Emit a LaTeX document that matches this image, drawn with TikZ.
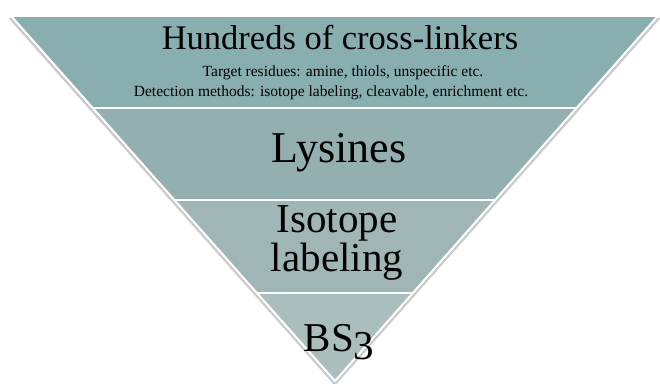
\documentclass[tikz,border=0pt]{standalone}
\usepackage{fontspec}
\setmainfont{Liberation Serif}
\usetikzlibrary{calc}
\definecolor{bandA}{HTML}{89AEAF}
\definecolor{bandB}{HTML}{94AFB0}
\definecolor{bandC}{HTML}{A0B6B6}
\definecolor{bandD}{HTML}{ABBEBE}
\tikzset{
  band/.style={draw=none},
  sepline/.style={draw=white, line width=2pt},
  edgeline/.style={draw=white, line width=2pt, line join=miter},
  shadowline/.style={draw=black!35, line width=2.5pt, opacity=0.6},
  lbl/.style={text=black, inner sep=0pt, align=center},
}
\begin{document}
\begin{tikzpicture}[x=1pt,y=-1pt]
\useasboundingbox (0,0) rectangle (660,383);
\coordinate (TL) at (12,17);
\coordinate (TR) at (657,17);
\coordinate (A) at (335,381);
\coordinate (L1) at ($(TL)!{91/364}!(A)$);
\coordinate (R1) at ($(TR)!{91/364}!(A)$);
\coordinate (L2) at ($(TL)!{183/364}!(A)$);
\coordinate (R2) at ($(TR)!{183/364}!(A)$);
\coordinate (L3) at ($(TL)!{276/364}!(A)$);
\coordinate (R3) at ($(TR)!{276/364}!(A)$);
% shadow
\draw[shadowline] ($(TL)+(-2,1)$) -- ($(A)+(0,3)$) -- ($(TR)+(2,1)$);
% bands
\fill[bandA] (TL) -- (TR) -- (R1) -- (L1) -- cycle;
\fill[bandB] (L1) -- (R1) -- (R2) -- (L2) -- cycle;
\fill[bandC] (L2) -- (R2) -- (R3) -- (L3) -- cycle;
\fill[bandD] (L3) -- (R3) -- (A) -- cycle;
% separators
\draw[sepline] (L1) -- (R1);
\draw[sepline] (L2) -- (R2);
\draw[sepline] (L3) -- (R3);
\draw[edgeline] (TL) -- (A) -- (TR);
% texts
\node[lbl, font=\fontsize{34.5}{36}\selectfont] (t1) at (340,38) {Hundreds of cross-linkers};
\node[lbl, font=\fontsize{15.5}{18}\selectfont] (t2) at (343,73) {Target residues: amine, thiols, unspecific etc.};
\node[lbl, font=\fontsize{15.5}{18}\selectfont] (t3) at (331,93) {Detection methods: isotope labeling, cleavable, enrichment etc.};
\node[lbl, font=\fontsize{44}{46}\selectfont] (t4) at (339,153) {Lysines};
\node[lbl, font=\fontsize{41}{34}\selectfont] (t5) at (337,243) {Isotope\\labeling};
\node[lbl, font=\fontsize{41}{44}\selectfont] (t6) at (339,342) {BS\raisebox{-0.2em}{3}};
\end{tikzpicture}
\end{document}
